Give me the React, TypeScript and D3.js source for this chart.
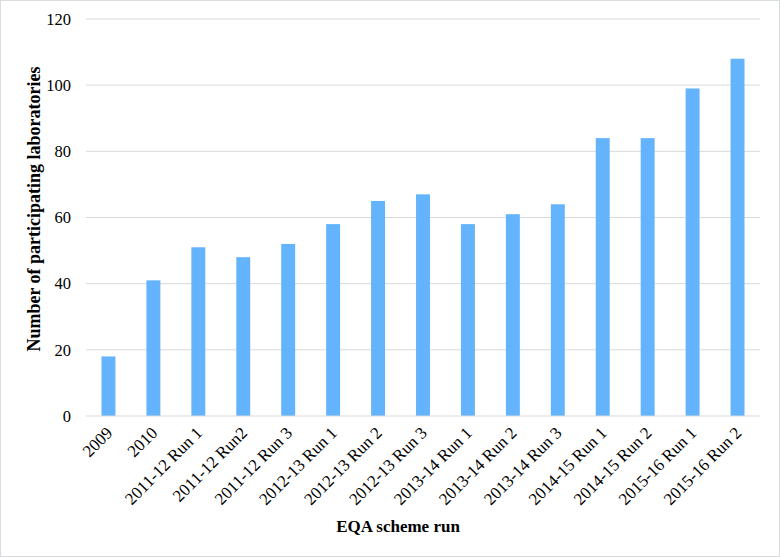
import React from 'react';
import * as d3 from 'd3';

const categories = [
  '2009', '2010', '2011-12 Run 1', '2011-12 Run2', '2011-12 Run 3',
  '2012-13 Run 1', '2012-13 Run 2', '2012-13 Run 3', '2013-14 Run 1',
  '2013-14 Run 2', '2013-14 Run 3', '2014-15 Run 1', '2014-15 Run 2',
  '2015-16 Run 1', '2015-16 Run 2',
];
const labs = [18, 41, 51, 48, 52, 58, 65, 67, 58, 61, 64, 84, 84, 99, 108];
const yTicks = [0, 20, 40, 60, 80, 100, 120];

const W = 780;
const H = 557;
const left = 86, right = 760, top = 19, bottom = 416;
const font = '"Liberation Serif", "Times New Roman", serif';

export default function App() {
  const x = d3.scaleBand<string>().domain(categories).range([left, right]).paddingInner(0.69).paddingOuter(0.345);
  const y = d3.scaleLinear().domain([0, 120]).range([bottom, top]);

  return (
    <svg width={W} height={H} style={{ position: 'absolute', left: 0, top: 0, background: '#fff' }}
      fontFamily={font}>
      <rect x={0.5} y={0.5} width={W - 1} height={H - 1} fill="#fff" stroke="#d9dcdc" />
      {yTicks.map(t => (
        <g key={t}>
          {t > 0 && <line x1={left} x2={right} y1={y(t)} y2={y(t)} stroke="#d9d9d9" strokeWidth={1} />}
          <text x={71} y={y(t)} dy="0.35em" textAnchor="end" fontSize={16.5} fill="#000">{t}</text>
        </g>
      ))}
      {categories.map((c, i) => (
        <rect key={c} x={x(c)} y={y(labs[i])} width={x.bandwidth()} height={y(0) - y(labs[i])} fill="#63b3fd" />
      ))}
      <line x1={left} x2={right} y1={y(0)} y2={y(0)} stroke="#d9d9d9" strokeWidth={1} />
      {categories.map(c => {
        const cx = (x(c) ?? 0) + x.bandwidth() / 2 + 5;
        return (
          <text key={c} transform={`translate(${cx},${bottom + 18}) rotate(-45)`} textAnchor="end"
            fontSize={17} fill="#000">{c}</text>
        );
      })}
      <text transform={`translate(40,209) rotate(-90)`} textAnchor="middle"
        fontSize={18} fontWeight="bold">Number of participating laboratories</text>
      <text x={398} y={532} textAnchor="middle" fontSize={17} fontWeight="bold">EQA scheme run</text>
    </svg>
  );
}
